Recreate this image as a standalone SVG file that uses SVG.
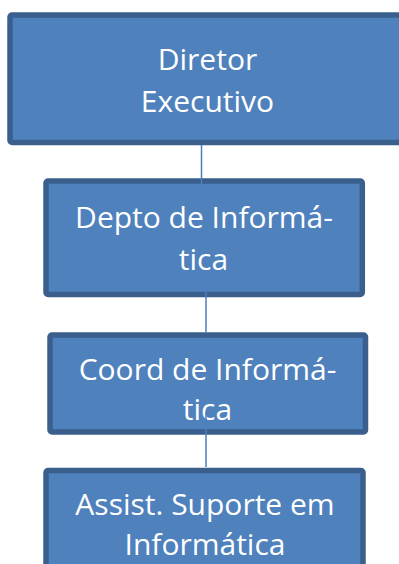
<svg xmlns="http://www.w3.org/2000/svg" width="399" height="564" viewBox="0 0 399 564">
<style>
.box{fill:#4F81BD;stroke:#3A5F8D;stroke-width:5.5}
.t{font-family:"Open Sans","Noto Sans",sans-serif;font-size:30px;fill:#FFFFFF;text-anchor:middle}
.c{stroke:#4A7EBB;stroke-width:1.5;fill:none}
</style>
<rect width="399" height="564" fill="#FFFFFF"/>
<g id="node-diretor">
<rect class="box" x="10" y="15" width="400" height="127.5" rx="2"/>
<text class="t" x="207.5" y="70">Diretor</text>
<text class="t" x="207.5" y="111.7">Executivo</text>
</g>
<g id="node-depto">
<rect class="box" x="46" y="181" width="316.3" height="113.5" rx="2"/>
<text class="t" x="204" y="228.3">Depto de Informá-</text>
<text class="t" x="203.5" y="270">tica</text>
</g>
<g id="node-coord">
<rect class="box" x="50" y="335" width="315.5" height="97" rx="2"/>
<text class="t" x="207.5" y="380">Coord de Informá-</text>
<text class="t" x="207.5" y="420">tica</text>
</g>
<g id="node-assist">
<rect class="box" x="46" y="470.5" width="317" height="130" rx="2"/>
<text class="t" x="205" y="515">Assist. Suporte em</text>
<text class="t" x="205" y="555">Informática</text>
</g>
<g id="connectors">
<line class="c" x1="201.5" y1="145" x2="201.5" y2="184"/>
<line class="c" x1="206" y1="287" x2="206" y2="332"/>
<line class="c" x1="206" y1="412" x2="206" y2="467"/>
</g>
</svg>
